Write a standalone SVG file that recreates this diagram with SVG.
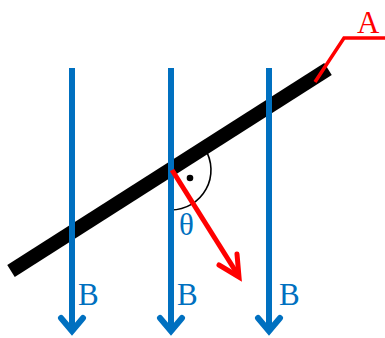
<svg xmlns="http://www.w3.org/2000/svg" width="385" height="338" viewBox="0 0 385 338">
<style>
.field{stroke:#0070C0;stroke-width:6;fill:none;stroke-linecap:butt}
.fhead{stroke:#0070C0;stroke-width:6;fill:none;stroke-linecap:round;stroke-linejoin:miter}
.lbl{font-family:"Liberation Serif","Times New Roman",serif;font-size:31px}
.blue{fill:#0070C0}
.red{fill:#FF0000}
</style>
<rect width="385" height="338" fill="#ffffff"/>
<g id="plate">
<line x1="11" y1="271" x2="328" y2="69" stroke="#000" stroke-width="14"/>
</g>
<g id="angle">
<path d="M204.7,148.5 A40,40 0 0 1 171,210" fill="none" stroke="#000" stroke-width="1.6"/>
<circle cx="190" cy="178" r="3.3" fill="#000"/>
</g>
<g id="field-lines">
<line class="field" x1="72" y1="68" x2="72" y2="330"/>
<path class="fhead" d="M61,318 L72,331 L83,318"/>
<line class="field" x1="171" y1="68" x2="171" y2="330"/>
<path class="fhead" d="M160,318 L171,331 L182,318"/>
<line class="field" x1="269" y1="68" x2="269" y2="330"/>
<path class="fhead" d="M258,318 L269,331 L280,318"/>
<text class="lbl blue" x="78" y="305">B</text>
<text class="lbl blue" x="177" y="305">B</text>
<text class="lbl blue" x="279" y="305">B</text>
</g>
<g id="normal">
<line x1="172" y1="170" x2="238" y2="275" stroke="#FF0000" stroke-width="5"/>
<path d="M219,265 L239,277 L237,254" fill="none" stroke="#FF0000" stroke-width="5" stroke-linecap="round" stroke-linejoin="miter"/>
</g>
<text class="lbl blue" x="179" y="235">θ</text>
<g id="label-A">
<polyline points="315,82 344,38 385,38" fill="none" stroke="#FF0000" stroke-width="3.5"/>
<text class="lbl red" x="357" y="33">A</text>
</g>
</svg>
